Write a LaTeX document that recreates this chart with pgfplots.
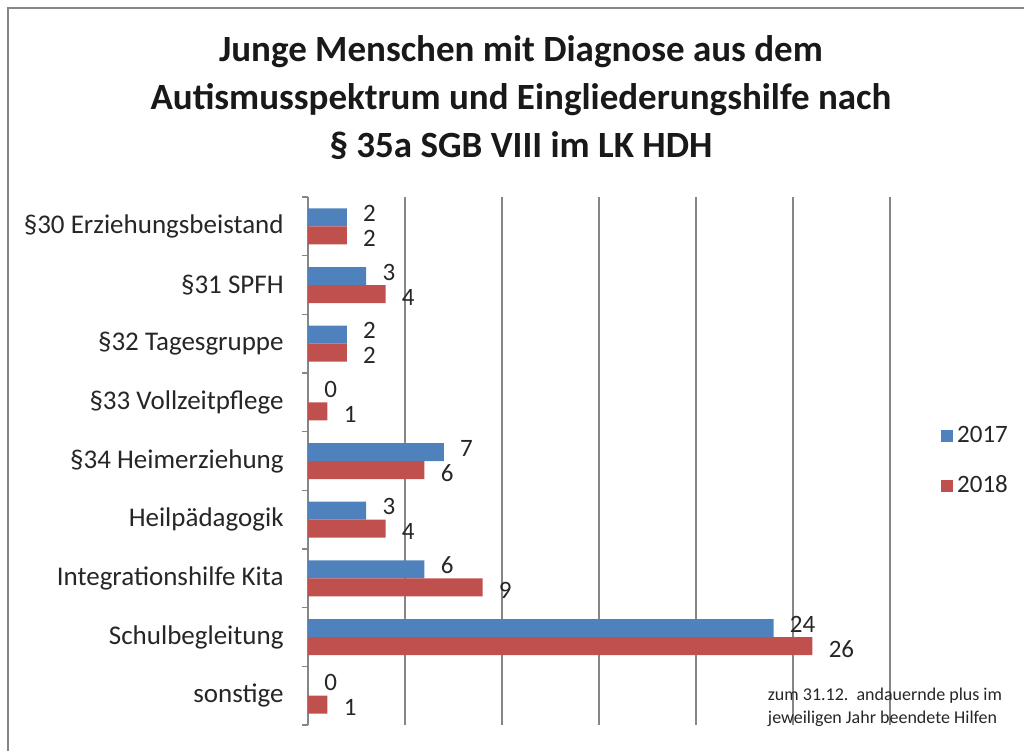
\documentclass[border=0pt]{standalone}
\usepackage{pgfplots}
\pgfplotsset{compat=1.18}
\usepackage{fontspec}
\setmainfont{Carlito}
\definecolor{blue17}{HTML}{4F81BD}
\definecolor{red18}{HTML}{C0504D}
\definecolor{gridgray}{HTML}{868686}

\begin{document}
\begin{tikzpicture}
\begin{axis}[
  at={(0,0)}, anchor=south west,
  scale only axis, width=291pt, height=264pt,
  xbar, bar width=9pt,
  xmin=0, xmax=30, ymin=-0.5, ymax=8.5, y dir=reverse,
  xtick={5,10,...,30}, xticklabels={}, xmajorgrids, grid style={gridgray, line width=0.6pt},
  ytick={0,...,8},
  yticklabels={\S30 Erziehungsbeistand, \S31 SPFH, \S32 Tagesgruppe, \S33 Vollzeitpflege, \S34 Heimerziehung, Heilpädagogik, Integrationshilfe Kita, Schulbegleitung, sonstige},
  minor ytick={-0.5,0.5,...,8.5},
  major tick length=0pt, minor tick length=3pt, tick align=outside,
  minor tick style={gridgray, line width=0.6pt},
  separate axis lines, axis x line*=bottom, x axis line style={draw=none},
  axis y line*=left, y axis line style={gridgray, line width=0.6pt},
  tick label style={font=\fontsize{13.5}{15}\selectfont, text=black!85},
  yticklabel style={inner sep=0pt, xshift=-12pt},
  /pgf/number format/assume math mode=true,
  nodes near coords,
  every node near coord/.append style={font=\fontsize{12.5}{14}\selectfont, text=black!85, inner sep=0pt, anchor=west, xshift=8pt},
  legend style={at={(1.077,0.5)}, anchor=west, draw=none, fill=none, row sep=11pt,
    font=\fontsize{12.5}{14}\selectfont, text=black!85, cells={anchor=west}},
  legend image code/.code={\fill[#1, draw=none] (0pt,-3pt) rectangle (6pt,3pt);},
]
\addplot[fill=blue17, draw=none, bar shift=4.5pt, every node near coord/.append style={yshift=2pt}]
  coordinates {(2,0) (3,1) (2,2) (0,3) (7,4) (3,5) (6,6) (24,7) (0,8)};
\addplot[fill=red18, draw=none, bar shift=-4.5pt, every node near coord/.append style={yshift=-1.5pt}]
  coordinates {(2,0) (4,1) (2,2) (1,3) (6,4) (4,5) (9,6) (26,7) (1,8)};
\legend{2017, 2018}
\end{axis}
\node[align=center, font=\fontsize{18.5}{24}\selectfont\bfseries, text=black!90] at (106.5pt,313.5pt)
  {Junge Menschen mit Diagnose aus dem\\Autismusspektrum und Eingliederungshilfe nach\\\S\ 35a SGB VIII im LK HDH};
\node[align=left, font=\fontsize{9}{11.5}\selectfont, text=black!85] at (288.5pt,9pt)
  {zum 31.12.\ \ andauernde plus im\\jeweiligen Jahr beendete Hilfen};
\draw[gridgray, line width=1pt] (-150pt,-13pt) -- (-150pt,358.5pt) -- (358pt,358.5pt);
\pgfresetboundingbox
\path[use as bounding box] (-154pt,-13pt) rectangle (358pt,362.5pt);
\end{tikzpicture}
\end{document}
